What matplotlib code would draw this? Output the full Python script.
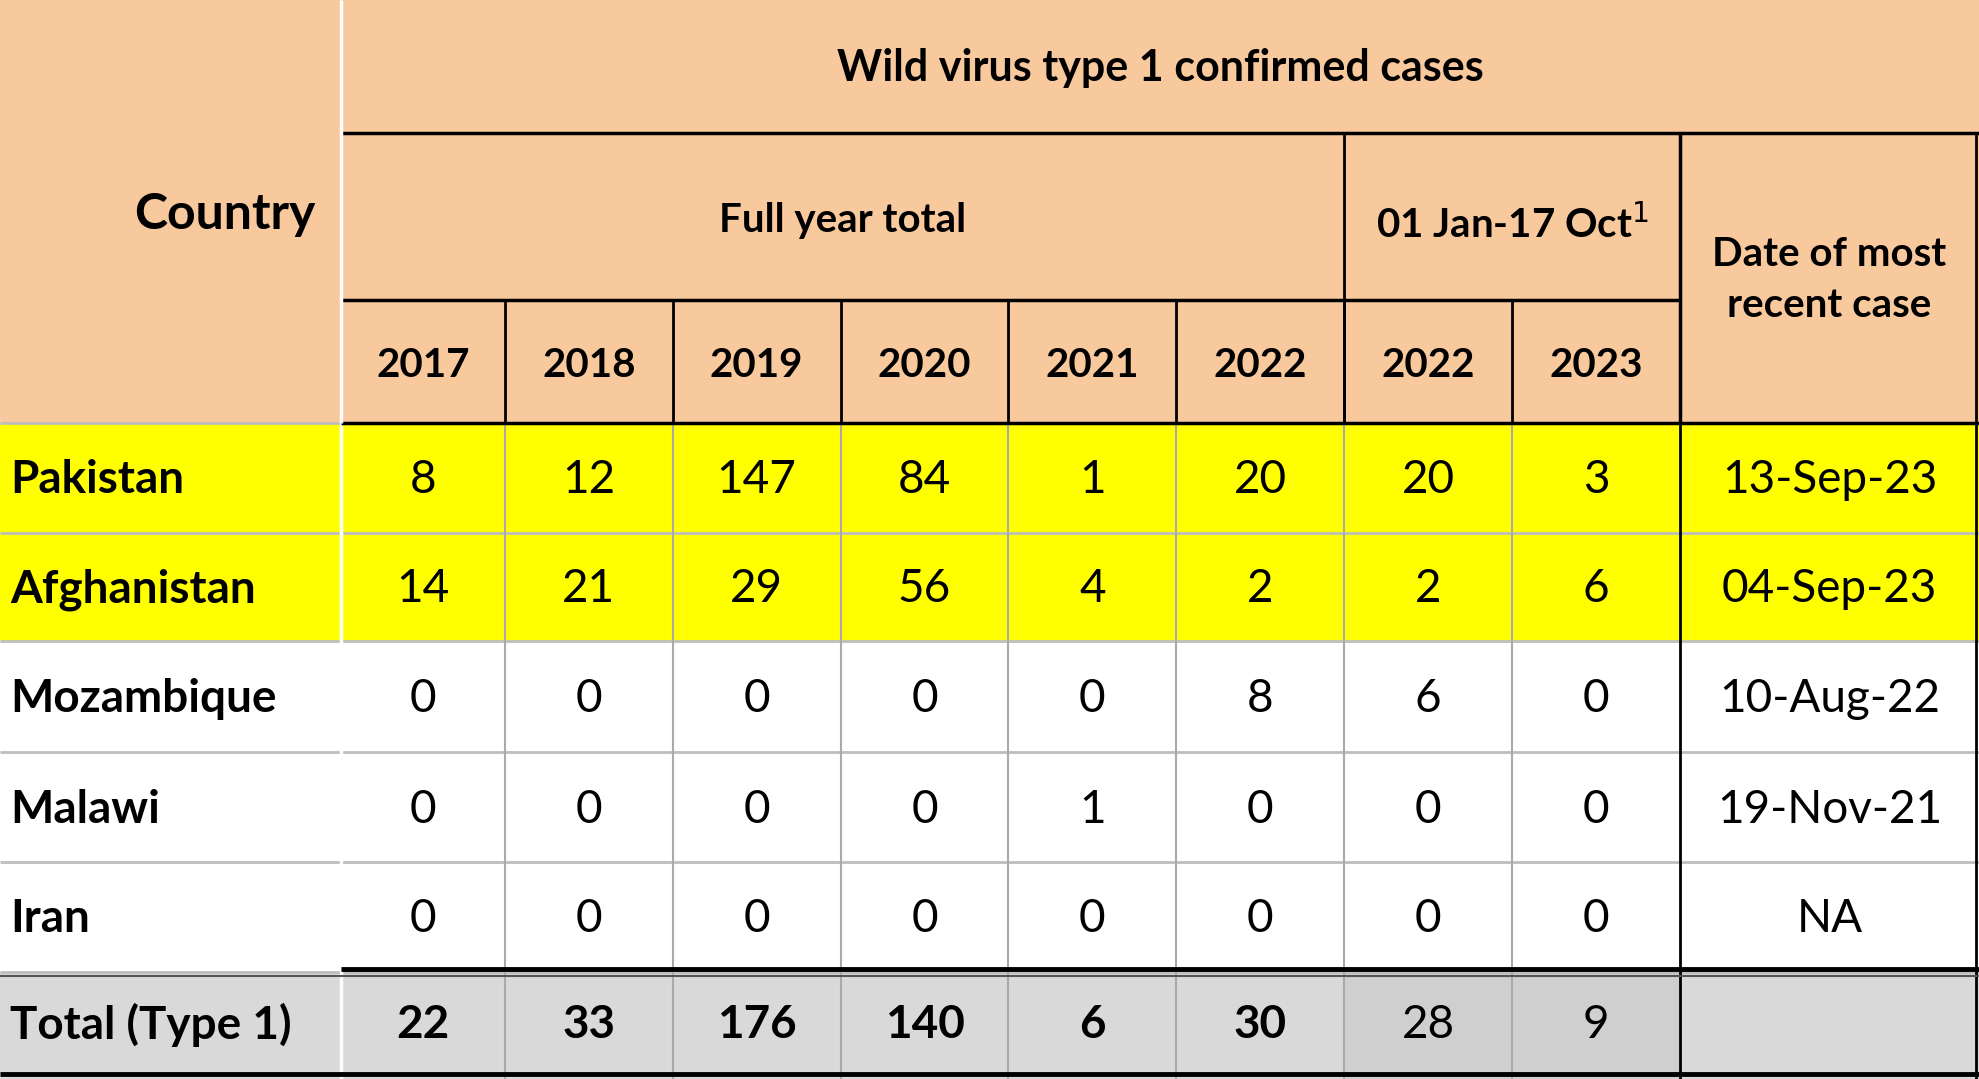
import matplotlib
matplotlib.use("Agg")
import matplotlib.pyplot as plt
from matplotlib.patches import Rectangle

countries = ["Pakistan", "Afghanistan", "Mozambique", "Malawi", "Iran"]
years = ["2017", "2018", "2019", "2020", "2021", "2022", "2022", "2023"]
values = [
    [8, 12, 147, 84, 1, 20, 20, 3],
    [14, 21, 29, 56, 4, 2, 2, 6],
    [0, 0, 0, 0, 0, 8, 6, 0],
    [0, 0, 0, 0, 1, 0, 0, 0],
    [0, 0, 0, 0, 0, 0, 0, 0],
]
recent = ["13-Sep-23", "04-Sep-23", "10-Aug-22", "19-Nov-21", "NA"]
totals = [22, 33, 176, 140, 6, 30, 28, 9]
title = "Wild virus type 1 confirmed cases"

FONT = "Lato"
PEACH = "#F9C99E"
YEL = "#FFFF00"
GRAY = "#D9D9D9"
GRAY2 = "#CFCFCF"

xs = [0, 270, 400, 533, 666, 799, 932, 1065, 1198, 1331, 1568]
ys = [0, 105, 238, 335, 422, 508, 596, 683, 770, 855]

fig = plt.figure(figsize=(19.79, 10.79), dpi=100)
ax = fig.add_axes([0, 0, 1, 1])
ax.set_xlim(0, 1568)
ax.set_ylim(855, 0)
ax.axis("off")

def rect(x0, y0, x1, y1, c):
    ax.add_patch(Rectangle((x0, y0), x1 - x0, y1 - y0, facecolor=c, edgecolor="none", zorder=1))

def line(x0, y0, x1, y1, c="black", lw=2, z=3):
    ax.plot([x0, x1], [y0, y1], color=c, lw=lw, zorder=z, solid_capstyle="butt")

def txt(x, y, s, size=27, weight="normal", ha="center", ls=1.2):
    ax.text(x, y, s, fontsize=size, fontweight=weight, ha=ha, va="center", family=FONT,
            zorder=5, linespacing=ls)

rect(0, 0, 1568, ys[3], PEACH)
for r in range(5):
    rect(0, ys[3 + r], 1568, ys[4 + r], YEL if r < 2 else "white")
rect(0, ys[8], 1568, 855, GRAY)
rect(xs[7], ys[8], xs[9], 855, GRAY2)

for r in range(3, 9):
    line(0, ys[r], 1568, ys[r], "#BDBDBD", 2, 2)
for i in range(2, 9):
    line(xs[i], ys[3], xs[i], 855, "#AAAAAA", 1.5, 2)
line(xs[1], ys[3], xs[1], 855, "white", 2.5, 3)
line(xs[9], ys[3], xs[9], 855, "black", 2, 3)

line(xs[1], ys[1], 1568, ys[1], "black", 2.5)
line(xs[1], ys[2], xs[9], ys[2], "black", 2.5)
line(xs[1], ys[3], 1568, ys[3], "black", 2.5)
for i in range(2, 9):
    line(xs[i], ys[2], xs[i], ys[3], "black", 2)
line(xs[7], ys[1], xs[7], ys[3], "black", 2)
line(xs[9], ys[1], xs[9], ys[3], "black", 2.5)
line(xs[1], 0, xs[1], ys[3], "white", 2.5)
line(1566, ys[1], 1566, 855, "black", 2)

line(xs[1], ys[8] - 2, 1568, ys[8] - 2, "black", 3.5)
line(0, ys[8] + 3, 1568, ys[8] + 3, "#555555", 1.5)
line(0, 851, 1568, 851, "black", 3.5)

txt((xs[1] + 1568) / 2, 54, title, 31, "bold")
txt(178, 170, "Country", 36, "bold")
txt((xs[1] + xs[7]) / 2, 175, "Full year total", 29, "bold")
txt((xs[7] + xs[9]) / 2, 178, "01 Jan-17 Oct$^{1}$", 29, "bold")
txt((xs[9] + 1568) / 2, 222, "Date of most\nrecent case", 29, "bold", ls=1.45)
for i, yr in enumerate(years):
    txt((xs[i + 1] + xs[i + 2]) / 2, 290, yr, 29, "bold")

for r, c in enumerate(countries):
    yc = (ys[3 + r] + ys[4 + r]) / 2 + 2
    txt(8, yc, c, 33, "bold", "left")
    for i, v in enumerate(values[r]):
        txt((xs[i + 1] + xs[i + 2]) / 2, yc, str(v), 33)
    txt((xs[9] + 1568) / 2, yc, recent[r], 33)

yc = (ys[8] + 855) / 2
txt(8, yc, "Total (Type 1)", 33, "bold", "left")
for i, v in enumerate(totals):
    txt((xs[i + 1] + xs[i + 2]) / 2, yc, str(v), 33, "bold" if i < 6 else "normal")

fig.savefig("out.png", dpi=100)
